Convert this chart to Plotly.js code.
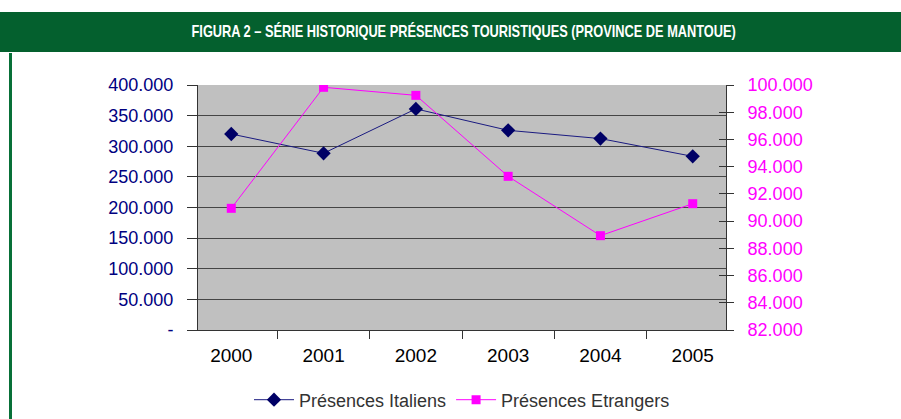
<!DOCTYPE html>
<html>
<head>
<meta charset="utf-8">
<script src="https://cdn.plot.ly/plotly-3.0.1.min.js"></script>
<style>html,body{margin:0;padding:0;background:#fff;}#chart{width:901px;height:419px;}</style>
</head>
<body>
<div id="chart"></div>
<script>
const years = ["2000", "2001", "2002", "2003", "2004", "2005"];
const italiens = [320000, 288500, 361000, 326000, 312500, 283500];
const etrangers = [90940, 99830, 99240, 93290, 88930, 91280];
const leftTickVals = [0, 50000, 100000, 150000, 200000, 250000, 300000, 350000, 400000];
const leftTickText = ["-", "50.000", "100.000", "150.000", "200.000", "250.000", "300.000", "350.000", "400.000"];
const titleText = "FIGURA 2 – SÉRIE HISTORIQUE PRÉSENCES TOURISTIQUES (PROVINCE DE MANTOUE)";
const seriesNames = ["Présences Italiens", "Présences Etrangers"];

const traces = [
  {
    x: years, y: italiens, name: seriesNames[0], type: "scatter", mode: "lines+markers",
    line: {color: "#1a1a80", width: 1},
    marker: {symbol: "diamond", size: 11, color: "#000066"},
    yaxis: "y"
  },
  {
    x: years, y: etrangers, name: seriesNames[1], type: "scatter", mode: "lines+markers",
    line: {color: "#ff00ff", width: 1},
    marker: {symbol: "square", size: 9, color: "#ff00ff"},
    yaxis: "y2"
  },
  {
    x: [], y: [], type: "scatter", mode: "lines", yaxis: "y3",
    showlegend: false, hoverinfo: "skip"
  }
];

const layout = {
  width: 901, height: 419,
  margin: {l: 198, r: 175, t: 85, b: 89},
  paper_bgcolor: "#ffffff",
  plot_bgcolor: "#c0c0c0",
  separators: ",.",
  font: {family: "Liberation Sans, Arial, sans-serif"},
  showlegend: true,
  legend: {
    orientation: "h", x: 0.5, xanchor: "center",
    yref: "container", y: (419 - 400) / 419, yanchor: "middle",
    font: {size: 18, color: "#333333"}, bgcolor: "rgba(0,0,0,0)",
    itemwidth: 40
  },
  xaxis: {
    type: "category",
    showgrid: false, showline: true, linecolor: "#333333", linewidth: 1,
    ticks: "outside", ticklen: 8, tickcolor: "#333333", tickson: "boundaries",
    ticklabelstandoff: 8,
    tickfont: {size: 19, color: "#000000"},
    zeroline: false, automargin: false
  },
  yaxis: {
    range: [0, 400000],
    tickvals: leftTickVals, ticktext: leftTickText,
    showgrid: true, gridcolor: "#454545", gridwidth: 1,
    showline: true, linecolor: "#333333", linewidth: 1,
    ticks: "outside", ticklen: 10, tickcolor: "#333333",
    ticklabelstandoff: 10,
    tickfont: {size: 18, color: "#000080"},
    zeroline: false, automargin: false
  },
  yaxis2: {
    overlaying: "y", side: "right", anchor: "x",
    range: [82000, 100000], dtick: 2000, tick0: 82000,
    tickformat: ",.0f", tickprefix: "\u00a0\u00a0",
    showgrid: false, showline: true, linecolor: "#333333", linewidth: 1,
    ticks: "outside", ticklen: 7, tickcolor: "#333333",
    tickfont: {size: 18, color: "#ff00ff"},
    zeroline: false, automargin: false
  },
  yaxis3: {
    overlaying: "y", side: "right", anchor: "x",
    range: [82000, 100000], dtick: 2000, tick0: 82000,
    showticklabels: false, showgrid: false, showline: false,
    ticks: "inside", ticklen: 7, tickcolor: "#333333",
    zeroline: false, automargin: false
  },
  shapes: [
    {type: "rect", xref: "paper", yref: "paper", layer: "below",
     x0: -198/528, x1: 703/528, y0: (330-12)/245, y1: (330-52)/245,
     fillcolor: "#04602e", line: {width: 0}},
    {type: "rect", xref: "paper", yref: "paper", layer: "below",
     x0: -189/528, x1: -186/528, y0: (330-419)/245 - 0.01, y1: (330-53)/245,
     fillcolor: "#087038", line: {width: 0}}
  ],
  annotations: [
    {text: "<b>" + titleText + "</b>", xref: "paper", yref: "paper",
     x: (463-198)/528, y: (330-31)/245, xanchor: "center", yanchor: "middle",
     showarrow: false, font: {family: "Liberation Sans, Arial, sans-serif", size: 16, color: "#ffffff"}}
  ]
};

Plotly.newPlot("chart", traces, layout, {staticPlot: true, displayModeBar: false}).then(function () {
  document.querySelectorAll(".annotation-text").forEach(function (t) {
    t.style.transformBox = "fill-box";
    t.style.transformOrigin = "center";
    t.style.transform = "scaleX(0.8)";
  });
});
</script>
</body>
</html>
